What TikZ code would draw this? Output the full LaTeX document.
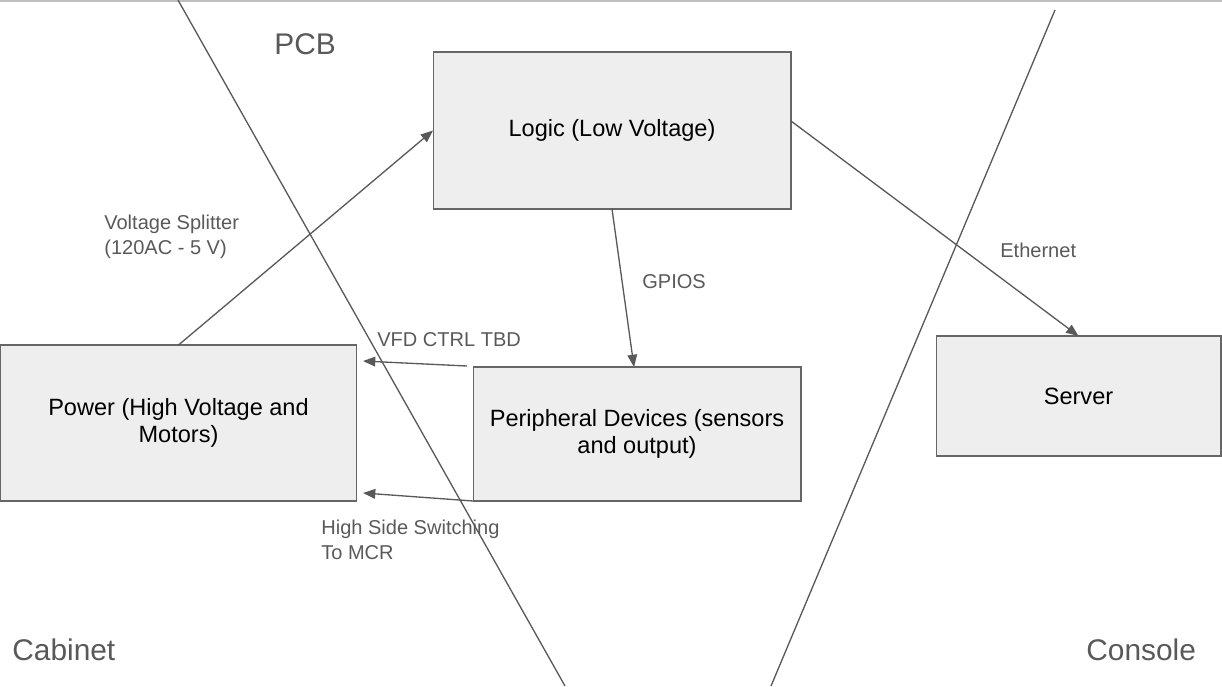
\documentclass[tikz,border=0pt]{standalone}
\usepackage{fontspec}
\setmainfont{Liberation Sans}
\usetikzlibrary{
    calc,
    arrows.meta
}
\definecolor{linegray}{HTML}{595959}
\definecolor{boxfill}{HTML}{EEEEEE}
\definecolor{boxdraw}{HTML}{666666}
\tikzset{%
    block/.style={%
        rectangle,
        draw=boxdraw,
        fill=boxfill,
        line width=0.6pt,
        align=center,
        inner sep = 2pt,
        outer sep = 0pt,
        font=\fontsize{13.4}{15.3}\selectfont
    },
    link/.style={%
        draw=linegray,
        line width=0.75pt,
        -{Triangle[length=7pt,width=5.5pt]},
    },
    divider/.style={%
        draw=linegray,
        line width=0.75pt,
    },
    link label/.style={%
        anchor=west,
        align=left,
        inner sep = 0pt,
        text=linegray,
        font=\fontsize{11.4}{14.2}\selectfont
    },
    zone label/.style={%
        anchor=west,
        inner sep = 0pt,
        text=linegray,
        font=\fontsize{17}{20}\selectfont
    },
}

\begin{document}
\begin{tikzpicture}[x=0.02cm, y=-0.02cm]
    \useasboundingbox (0,0) rectangle (1222,686);
    \draw[draw=black!25, line width=0.8pt] (0,1) -- (1222,1);

    % zone borders
    \draw[divider] (178,0) -- (565,686);
    \draw[divider] (1055,10) -- (771,686);

    \node[zone label] (pcb) at (274,44) {PCB};
    \node[zone label] (cabinet) at (12,650) {Cabinet};
    \node[zone label] (console) at (1086,650) {Console};

    \node[block, minimum width=7.16cm, minimum height=3.14cm] (logic) at (612,130.5) {Logic (Low Voltage)};
    \node[block, minimum width=7.14cm, minimum height=3.12cm] (power) at (178.5,423) {Power (High Voltage and\\Motors)};
    \node[block, minimum width=6.56cm, minimum height=2.68cm] (periph) at (637,434) {Peripheral Devices (sensors\\and output)};
    \node[block, minimum width=5.70cm, minimum height=2.40cm] (server) at (1078.5,396) {Server};

    \draw[link] (power.north) -- (logic.west);
    \draw[link] (logic.south) -- ($(periph.north)+(-3,0)$);
    \draw[link] ($(logic.east)+(0,-9.5)$) -- (server.north);
    \draw[link] ($(periph.north west)+(-6,-1)$) -- ($(power.north east)+(6,16)$);
    \draw[link] (periph.south west) -- ($(power.south east)+(6,-8)$);

    \node[link label] (splitter) at (104,236.5) {Voltage Splitter\\(120AC - 5 V)};
    \node[link label] (gpios) at (642,282) {GPIOS};
    \node[link label] (ethernet) at (1000,250) {Ethernet};
    \node[link label] (vfd) at (377,340) {VFD CTRL TBD};
    \node[link label] (hss) at (321,539.5) {High Side Switching\\To MCR};
\end{tikzpicture}
\end{document}
